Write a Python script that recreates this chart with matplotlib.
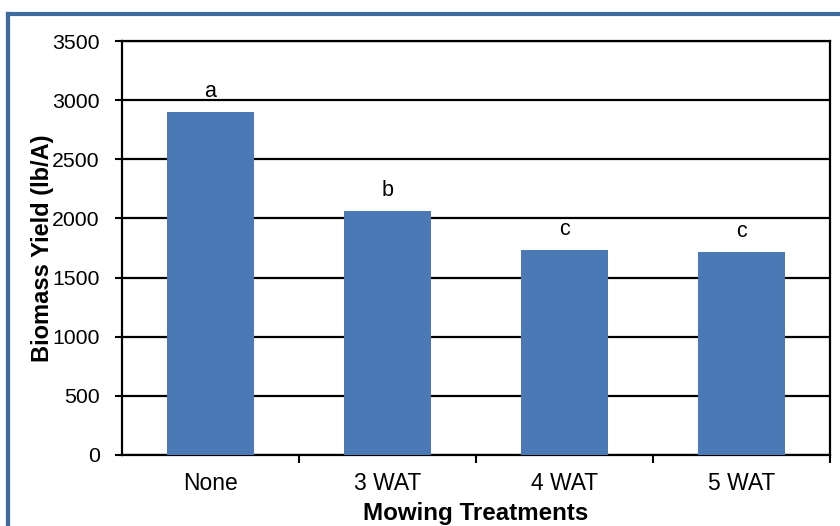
import matplotlib
matplotlib.use("Agg")
import matplotlib.pyplot as plt
from matplotlib.lines import Line2D

plt.rcParams['font.family'] = ['Liberation Sans', 'DejaVu Sans']

treatments = ["None", "3 WAT", "4 WAT", "5 WAT"]
yield_lb = [2900, 2065, 1730, 1715]
letters = ["a", "b", "c", "c"]
yticks = [0, 500, 1000, 1500, 2000, 2500, 3000, 3500]

bar_color = "#4a79b6"
frame_color = "#3d6b9e"

fig = plt.figure(figsize=(8.4, 5.26), dpi=100)
ax = fig.add_axes([0.1452, 0.135, 0.843, 0.787])

x = range(len(treatments))
ax.bar(x, yield_lb, width=0.49, color=bar_color, zorder=3)
for i, (v, l) in enumerate(zip(yield_lb, letters)):
    ax.text(i, v + 85, l, ha="center", va="bottom", fontsize=15.5)

ax.set_xlim(-0.5, 3.5)
ax.set_ylim(0, 3500)
ax.set_yticks(yticks)
ax.set_xticks(list(x))
ax.set_xticklabels(treatments, fontsize=16.5)
ax.tick_params(axis="y", labelsize=15.3, length=5, width=1.5, pad=11)
ax.tick_params(axis="x", length=0, pad=12)
# small ticks between categories
ax.set_xticks([0.5, 1.5, 2.5, 3.5], minor=True)
ax.tick_params(axis="x", which="minor", length=6, width=1.5, direction="out")
ax.yaxis.grid(True, color="black", linewidth=1.6, zorder=1)
ax.set_axisbelow(True)
for s in ax.spines.values():
    s.set_linewidth(1.6)
    s.set_color("black")

ax.set_ylabel("Biomass Yield (lb/A)", fontsize=17, fontweight="bold", labelpad=-1)
ax.set_xlabel("Mowing Treatments", fontsize=17.4, fontweight="bold", labelpad=5)

# blue frame around the figure
fig.add_artist(Line2D([8 / 840, 1], [1 - 14 / 526, 1 - 14 / 526],
                      transform=fig.transFigure, color=frame_color, linewidth=3))
fig.add_artist(Line2D([8 / 840, 8 / 840], [0, 1 - 14 / 526],
                      transform=fig.transFigure, color=frame_color, linewidth=3))

fig.savefig("out.png", dpi=100)
